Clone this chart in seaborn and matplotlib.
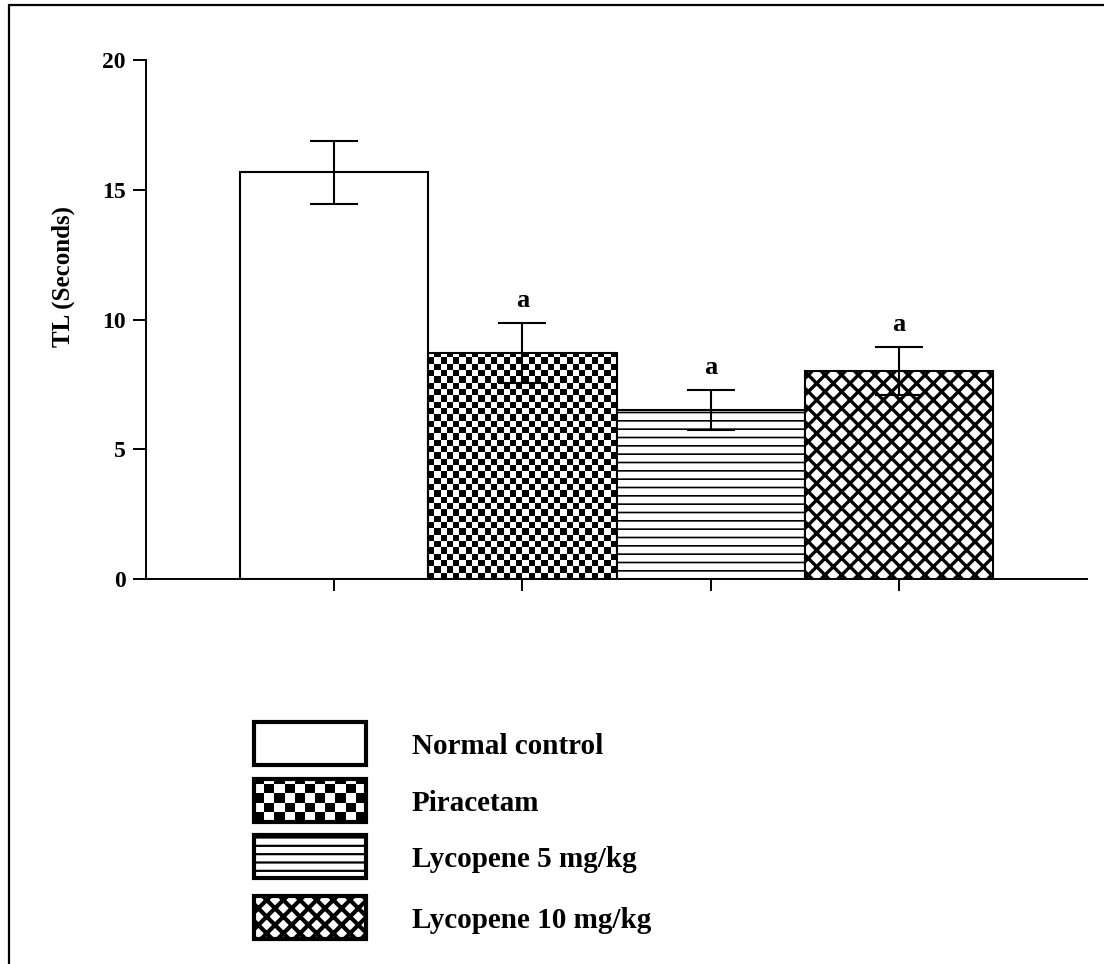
import numpy as np
import pandas as pd
import matplotlib
matplotlib.use("Agg")
import matplotlib.pyplot as plt
from matplotlib.patches import Rectangle
from matplotlib.lines import Line2D
import seaborn as sns

# Group means and SEM of transfer latency
groups = ["Normal control", "Piracetam", "Lycopene 5 mg/kg", "Lycopene 10 mg/kg"]
tl_mean = [15.68, 8.71, 6.51, 8.02]
tl_sem = [1.21, 1.17, 0.76, 0.93]
sig_labels = ["", "a", "a", "a"]
y_ticks = [0, 5, 10, 15, 20]

sns.set_theme(style="ticks")
plt.rcParams["font.family"] = ["Liberation Serif", "DejaVu Serif"]
plt.rcParams["font.weight"] = "bold"
plt.rcParams["hatch.color"] = "black"
for key in ("text.color", "axes.labelcolor", "xtick.color", "ytick.color",
            "axes.edgecolor"):
    plt.rcParams[key] = "black"

W, H = 1104, 964
fig = plt.figure(figsize=(W / 100, H / 100), dpi=100)
ax = fig.add_axes([146 / W, 1 - 579 / H, (1087 - 146) / W, (579 - 60) / H])

df = pd.DataFrame({"group": groups, "tl": tl_mean})
sns.barplot(data=df, x="group", y="tl", order=groups, width=1.0,
            color="white", edgecolor="black", linewidth=1.5,
            errorbar=None, ax=ax, zorder=2)

bars = ax.patches[:4]
for b in bars:
    b.set_facecolor("white")
    b.set_edgecolor("black")
    b.set_linewidth(1.5)


def set_hatch(patch, pattern, lw):
    patch.set_hatch(pattern)
    if hasattr(patch, "set_hatch_linewidth"):
        patch.set_hatch_linewidth(lw)
    else:
        plt.rcParams["hatch.linewidth"] = lw


def checker_fill(axis, patch, ncols, cell_h, z):
    """Fill a rectangle with a black/white checkerboard clipped to it."""
    x0, y0 = patch.get_x(), patch.get_y()
    w, h = patch.get_width(), patch.get_height()
    nrows = int(np.ceil(h / cell_h)) + 1
    grid = (np.add.outer(np.arange(nrows), np.arange(ncols)) % 2).astype(float)
    xl, yl = axis.get_xlim(), axis.get_ylim()
    im = axis.imshow(grid, cmap="gray", vmin=0, vmax=1, origin="lower",
                     extent=[x0, x0 + w, y0, y0 + nrows * cell_h],
                     interpolation="nearest", aspect="auto", zorder=z)
    im.set_clip_path(patch)
    axis.set_xlim(xl)
    axis.set_ylim(yl)
    patch.set_facecolor("none")


ax.set_xlim(-1, 4)
ax.set_ylim(0, 20)

# Piracetam: checkerboard, Lycopene 5: horizontal lines, Lycopene 10: cross-hatch
checker_fill(ax, bars[1], 30, 0.243, 1.5)
set_hatch(bars[2], "--", 1.2)
set_hatch(bars[3], "xx", 2.4)

x_pos = np.arange(len(groups))
ax.errorbar(x_pos, tl_mean, yerr=tl_sem, fmt="none", ecolor="black",
            elinewidth=1.5, capsize=17.3, capthick=1.5, zorder=4)

for xi, m, s, lab in zip(x_pos, tl_mean, tl_sem, sig_labels):
    if lab:
        ax.annotate(lab, (xi, m + s), xytext=(0, 8), textcoords="offset points",
                    ha="center", va="bottom", fontsize=19, fontweight="bold")

sns.despine(ax=ax)
for sp in ("left", "bottom"):
    ax.spines[sp].set_linewidth(1.4)
ax.set_yticks(y_ticks)
ax.set_yticklabels([str(t) for t in y_ticks], fontsize=17, fontweight="bold")
ax.set_xticks(x_pos)
ax.set_xticklabels([""] * len(groups))
ax.tick_params(axis="y", length=9.5, width=1.4, pad=5)
ax.tick_params(axis="x", length=8.5, width=1.4)
ax.set_xlabel("")
ax.set_ylabel("TL (Seconds)", fontsize=18, fontweight="bold")
ax.yaxis.set_label_coords(-0.075, 0.582)
ax.set_facecolor("none")

# Legend drawn in a full-figure overlay using pixel coordinates
lax = fig.add_axes([0, 0, 1, 1], zorder=5)
lax.set_xlim(0, W)
lax.set_ylim(H, 0)
lax.axis("off")
lax.patch.set_alpha(0)

rows_y = [722, 779, 835, 896]
box_w, box_h = 112, 43
styles = ["plain", "checker", "--", "x"]
for yy, name, st in zip(rows_y, groups, styles):
    r = Rectangle((254, yy), box_w, box_h, facecolor="white", edgecolor="black",
                  linewidth=3, zorder=3)
    lax.add_patch(r)
    if st == "checker":
        xl, yl = lax.get_xlim(), lax.get_ylim()
        grid = (np.add.outer(np.arange(5), np.arange(11)) % 2).astype(float)
        im = lax.imshow(grid, cmap="gray", vmin=0, vmax=1,
                        extent=[254, 254 + box_w, yy + box_h, yy - 5],
                        interpolation="nearest", aspect="auto", zorder=2)
        im.set_clip_path(r)
        lax.set_xlim(xl)
        lax.set_ylim(yl)
        r.set_facecolor("none")
    elif st == "--":
        set_hatch(r, "--", 1.6)
    elif st == "x":
        set_hatch(r, "xx", 3.0)
    lax.text(412, yy + box_h / 2 + 3, name, fontsize=21, fontweight="bold",
             ha="left", va="center")

# Outer frame lines along the top and left edges
fig.add_artist(Line2D([9 / W, 9 / W], [0, 1 - 5 / H], transform=fig.transFigure,
                      color="black", linewidth=1.6))
fig.add_artist(Line2D([9 / W, 1], [1 - 5 / H, 1 - 5 / H], transform=fig.transFigure,
                      color="black", linewidth=1.6))

fig.savefig("out.png", dpi=100, facecolor="white")
